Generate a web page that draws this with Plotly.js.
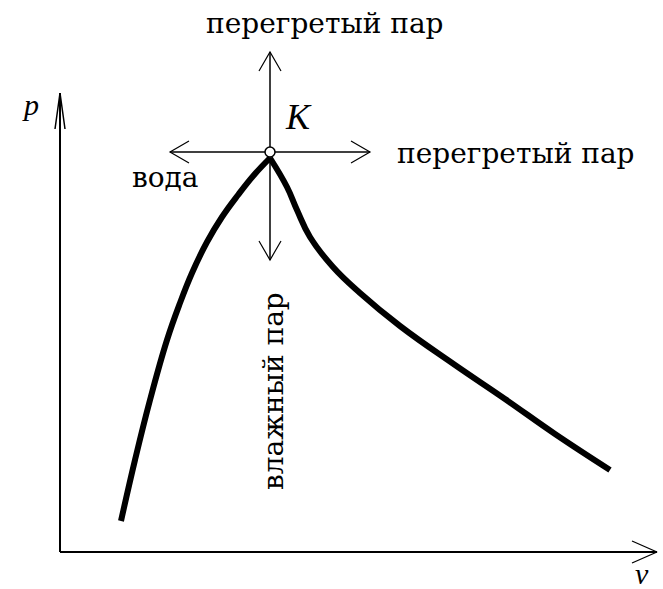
<!DOCTYPE html>
<html><head><meta charset="utf-8">
<script src="https://cdn.plot.ly/plotly-3.0.1.min.js"></script>
<style>html,body{margin:0;padding:0;background:#fff}#chart{width:663px;height:589px}</style>
</head><body><div id="chart"></div>
<script>
// Saturation (boundary) curve, in arbitrary v / p units
const curveV = [6.1, 7.5, 9.0, 10.7, 12.0, 13.2, 14.7, 16.2, 17.8, 19.4, 21.0, 22.7, 23.7, 25.0, 27.3, 30.0, 34.0, 39.5, 44.5, 49.5, 55.0];
const curveP = [3.1, 9.2, 15.2, 21.2, 24.9, 27.9, 31.0, 33.5, 35.7, 37.7, 39.4, 36.5, 34.2, 31.5, 28.5, 25.9, 22.6, 18.7, 15.3, 11.8, 8.2];

// critical point K
const pointK = {v: 21.0, p: 40.0};

// direction arrows from K: tip positions
const arrowTipV = [21.0, 11.0, 31.0, 21.0];
const arrowTipP = [50.0, 40.0, 40.0, 29.2];

// axis extents
const axisEndV = 59.7;
const axisEndP = 45.9;

// labels
const labelText = ['перегретый пар', 'перегретый пар', 'вода', 'влажный пар'];
const labelV = [26.5, 45.6, 10.5, 21.3];
const labelP = [52.9, 39.9, 37.5, 16.1];
const labelAngle = [0, 0, 0, -90];

const symText = ['p', 'K', 'v'];
const symV = [-3.0, 23.8, 58.2];
const symP = [44.8, 43.5, -2.1];

function head(tx, ty, dx, dy, len, half) {
  const L = Math.hypot(dx, dy); dx /= L; dy /= L;
  const nx = -dy, ny = dx;
  return {
    x: [tx - len*dx + half*nx, tx, tx - len*dx - half*nx],
    y: [ty - len*dy + half*ny, ty, ty - len*dy - half*ny]
  };
}

const traces = [];
const blk = '#000';
// axes
traces.push({x: [0, 0], y: [axisEndP, 0], mode: 'lines', line: {color: blk, width: 2}});
traces.push({x: [0, axisEndV], y: [0, 0], mode: 'lines', line: {color: blk, width: 2}});
let h = head(axisEndV, 0, 1, 0, 2.5, 1.1);
traces.push({x: h.x, y: h.y, mode: 'lines', line: {color: blk, width: 1.3}});
h = head(0, axisEndP, 0, 1, 3.6, 0.5);
traces.push({x: h.x, y: h.y, mode: 'lines', line: {color: blk, width: 1.5}});

// curve: split at the peak so each branch is smoothed separately
const iPeak = curveP.indexOf(Math.max(...curveP));
const branches = [
  [curveV.slice(0, iPeak + 1), curveP.slice(0, iPeak + 1)],
  [curveV.slice(iPeak), curveP.slice(iPeak)]
];
branches.forEach(b => traces.push({x: b[0], y: b[1], mode: 'lines',
  line: {color: blk, width: 6, shape: 'spline', smoothing: 1.2}}));

// arrows from K
for (let i = 0; i < arrowTipV.length; i++) {
  const dx = arrowTipV[i] - pointK.v, dy = arrowTipP[i] - pointK.p;
  traces.push({x: [pointK.v, arrowTipV[i]], y: [pointK.p, arrowTipP[i]], mode: 'lines', line: {color: blk, width: 1.5}});
  const hh = head(arrowTipV[i], arrowTipP[i], dx, dy, 1.9, 1.1);
  traces.push({x: hh.x, y: hh.y, mode: 'lines', line: {color: blk, width: 1.2}});
}
// K marker
traces.push({x: [pointK.v], y: [pointK.p], mode: 'markers',
  marker: {symbol: 'circle', size: 10, color: '#fff', line: {color: blk, width: 1.5}}});

const annotations = [];
for (let i = 0; i < labelText.length; i++) {
  annotations.push({x: labelV[i], y: labelP[i], text: labelText[i], showarrow: false,
    xanchor: 'center', yanchor: 'middle', textangle: labelAngle[i],
    font: {family: 'DejaVu Serif, serif', size: 28, color: blk}});
}
const symSize = [30, 36, 30];
for (let i = 0; i < symText.length; i++) {
  annotations.push({x: symV[i], y: symP[i], text: '<i>' + symText[i] + '</i>', showarrow: false,
    xanchor: 'center', yanchor: 'middle',
    font: {family: 'Liberation Serif, Times New Roman, serif', size: symSize[i], color: blk}});
}

const layout = {
  width: 663, height: 589,
  margin: {l: 0, r: 0, t: 0, b: 0, pad: 0},
  paper_bgcolor: '#fff', plot_bgcolor: '#fff',
  showlegend: false, hovermode: false,
  xaxis: {range: [-6.0, 60.3], visible: false, fixedrange: true},
  yaxis: {range: [-3.7, 55.2], visible: false, fixedrange: true},
  annotations: annotations
};
Plotly.newPlot('chart', traces, layout, {displayModeBar: false, staticPlot: true});
</script></body></html>
